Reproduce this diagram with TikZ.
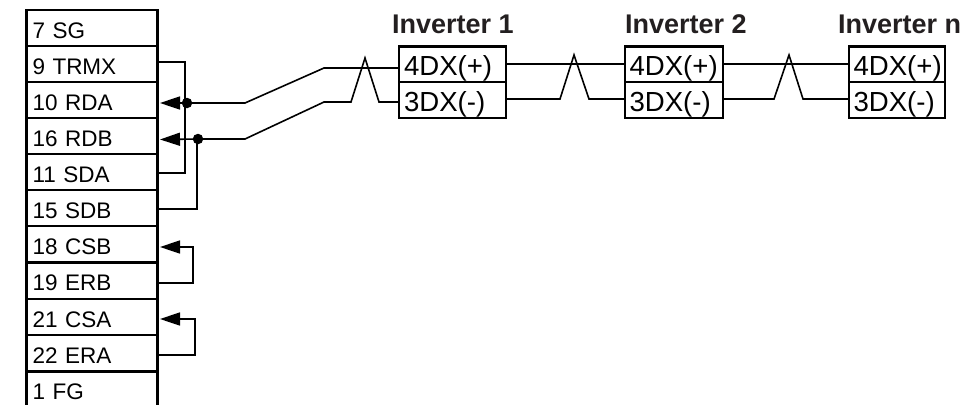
\documentclass[tikz,border=0pt]{standalone}
\usepackage{fontspec}
\setmainfont{Liberation Sans}
\usetikzlibrary{arrows.meta,calc}
\definecolor{ink}{HTML}{231F20}
\tikzset{
  x=1pt,y=-1pt,
  rowbox/.style={draw=black,line width=2.3pt,outer sep=0pt,minimum width=131pt,minimum height=36.3pt,inner sep=0pt,
    text width=125pt,align=left,text height=20pt,text depth=0pt,font=\fontsize{22.5}{22.5}\selectfont},
  portbox/.style={draw=black,line width=2.3pt,outer sep=0pt,inner sep=0pt,text depth=0pt,text height=22pt,
    font=\fontsize{27.6}{27.6}\selectfont,align=left},
  title/.style={inner sep=0pt,text=ink,font=\bfseries\fontsize{27}{27}\selectfont,anchor=base west},
  wire/.style={draw=black,line width=1.6pt,line cap=butt,line join=miter},
  arrowwire/.style={wire,{Triangle[length=20pt,width=13pt]}-},
  joint/.style={circle,fill=black,inner sep=0pt,minimum size=10.5pt},
}
\begin{document}
\begin{tikzpicture}
\useasboundingbox (0,0) rectangle (971,405);
% left connector
\node[rowbox] (sg) at (92,28) {\hspace*{3pt}7 SG};
\node[rowbox] (trmx) at (92,64) {\hspace*{3pt}9 TRMX};
\node[rowbox] (rda) at (92,100) {\hspace*{3pt}10 RDA};
\node[rowbox] (rdb) at (92,136) {\hspace*{3pt}16 RDB};
\node[rowbox] (sda) at (92,172) {\hspace*{3pt}11 SDA};
\node[rowbox] (sdb) at (92,208) {\hspace*{3pt}15 SDB};
\node[rowbox] (csb) at (92,244.3) {\hspace*{3pt}18 CSB};
\node[rowbox] (erb) at (92,280.6) {\hspace*{3pt}19 ERB};
\node[rowbox] (csa) at (92,317) {\hspace*{3pt}21 CSA};
\node[rowbox] (era) at (92,353.3) {\hspace*{3pt}22 ERA};
\node[rowbox,draw=none] (fg) at (92,389.6) {\hspace*{3pt}1 FG};
\draw[black,line width=2.3pt] (fg.north west) -- (fg.north west |- 0,405) (fg.north east) -- (fg.north east |- 0,405);
% inverter titles
\node[title] (t1) at (392,33) {Inverter 1};
\node[title] (t2) at (625,33) {Inverter 2};
\node[title] (t3) at (838,33) {Inverter n};
% inverter 1
\node[portbox,minimum width=107pt,minimum height=35.5pt,text width=103pt] (a4) at (452.5,64.3) {\hspace*{3pt}4DX(+)};
\node[portbox,minimum width=107pt,minimum height=36pt,text width=103pt] (a3) at (452.5,100) {\hspace*{3pt}3DX(-)};
% inverter 2
\node[portbox,minimum width=98pt,minimum height=35.5pt,text width=95pt] (b4) at (674,64.3) {\hspace*{3pt}4DX(+)};
\node[portbox,minimum width=98pt,minimum height=36pt,text width=95pt] (b3) at (674,100) {\hspace*{3pt}3DX(-)};
% inverter n
\node[portbox,minimum width=96pt,minimum height=35.5pt,text width=93pt] (c4) at (897,64.3) {\hspace*{3pt}4DX(+)};
\node[portbox,minimum width=96pt,minimum height=36pt,text width=93pt] (c3) at (897,100) {\hspace*{3pt}3DX(-)};
% joints
\node[joint] (j1) at (187,103) {};
\node[joint] (j2) at (198,139) {};
% points on the connector edge
\coordinate (tipa) at (160,103);
\coordinate (tipb) at (160,139.5);
\coordinate (tipc) at (160,247);
\coordinate (tipd) at (160,319);
% termination links
\draw[wire] (trmx.east |- 0,62) -- (185,62) -- (185,173) -- (sda.east |- 0,173);
\draw[wire] (sdb.east |- 0,209) -- (197,209) -- (197,139);
% bus to inverter 1
\draw[arrowwire] (tipa) -- (j1.center) -- (245,103) -- (324,68) -- (a4.west |- 0,68);
\draw[arrowwire] (tipb) -- (j2.center) -- (245,139) -- (324,102) -- (351,102) -- (365,58) -- (379,102) -- (a3.west |- 0,102);
% inverter 1 to 2
\draw[wire] (a4.east |- 0,64) -- (b4.west |- 0,64);
\draw[wire] (a3.east |- 0,99) -- (560,99) -- (574,55) -- (589,99) -- (b3.west |- 0,99);
% inverter 2 to n
\draw[wire] (b4.east |- 0,64) -- (c4.west |- 0,64);
\draw[wire] (b3.east |- 0,99) -- (774,99) -- (789,55) -- (803,99) -- (c3.west |- 0,99);
% loops
\draw[arrowwire] (tipc) -- (193,247) -- (193,283) -- (erb.east |- 0,283);
\draw[arrowwire] (tipd) -- (195,319) -- (195,355) -- (era.east |- 0,355);
\end{tikzpicture}
\end{document}
